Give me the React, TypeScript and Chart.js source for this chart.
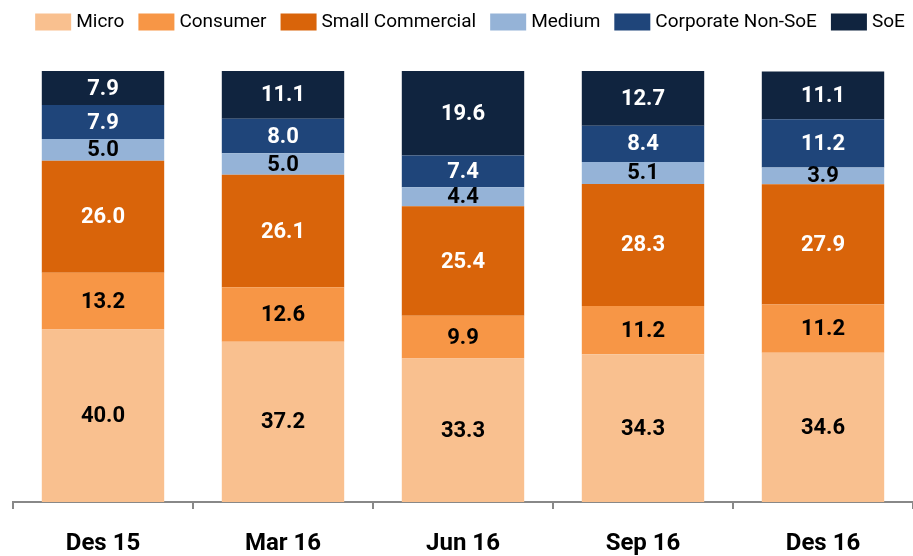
import React, { useEffect, useRef } from "react";
import { Chart, registerables } from "chart.js";

Chart.register(...registerables);

const categories = ["Des 15", "Mar 16", "Jun 16", "Sep 16", "Des 16"];
const micro = [40.0, 37.2, 33.3, 34.3, 34.6];
const consumer = [13.2, 12.6, 9.9, 11.2, 11.2];
const smallCommercial = [26.0, 26.1, 25.4, 28.3, 27.9];
const medium = [5.0, 5.0, 4.4, 5.1, 3.9];
const corporateNonSoE = [7.9, 8.0, 7.4, 8.4, 11.2];
const soe = [7.9, 11.1, 19.6, 12.7, 11.1];

const seriesNames = ["Micro", "Consumer", "Small Commercial", "Medium", "Corporate Non-SoE", "SoE"];
const seriesValues = [micro, consumer, smallCommercial, medium, corporateNonSoE, soe];
const seriesColors = ["#F9C08F", "#F79646", "#D9640A", "#95B3D7", "#1F457A", "#10243F"];
const labelColors = ["#000000", "#000000", "#FFFFFF", "#000000", "#FFFFFF", "#FFFFFF"];

const FONT = "Roboto, 'DejaVu Sans', sans-serif";

const barLabels = {
  id: "barLabels",
  afterDatasetsDraw(chart: any) {
    const ctx = chart.ctx;
    ctx.save();
    ctx.font = `bold 22px ${FONT}`;
    ctx.textAlign = "center";
    ctx.textBaseline = "middle";
    chart.data.datasets.forEach((ds: any, i: number) => {
      const meta = chart.getDatasetMeta(i);
      meta.data.forEach((el: any, j: number) => {
        const v = ds.data[j];
        const y = (el.y + el.base) / 2;
        ctx.fillStyle = labelColors[i];
        ctx.fillText(v.toFixed(1), el.x, y + 1);
      });
    });
    ctx.restore();
  },
};

const topLegend = {
  id: "topLegend",
  afterDraw(chart: any) {
    const ctx = chart.ctx;
    ctx.save();
    ctx.font = `19px ${FONT}`;
    ctx.textBaseline = "middle";
    ctx.textAlign = "left";
    const boxW = 36;
    const boxH = 17;
    const gapBoxText = 5;
    const gapItems = 14;
    const widths = chart.data.datasets.map((ds: any) => ctx.measureText(ds.label).width);
    let total = 0;
    widths.forEach((w: number) => (total += boxW + gapBoxText + w));
    total += gapItems * (widths.length - 1);
    let x = 470 - total / 2;
    const cy = 22;
    chart.data.datasets.forEach((ds: any, i: number) => {
      ctx.fillStyle = ds.backgroundColor;
      ctx.fillRect(x, cy - boxH / 2, boxW, boxH);
      x += boxW + gapBoxText;
      ctx.fillStyle = "#000";
      ctx.fillText(ds.label, x, cy);
      x += widths[i] + gapItems;
    });
    ctx.restore();
  },
};

export default function App() {
  const ref = useRef<HTMLCanvasElement | null>(null);
  useEffect(() => {
    if (!ref.current) return;
    const chart = new Chart(ref.current, {
      type: "bar",
      data: {
        labels: categories,
        datasets: seriesNames.map((name, i) => ({
          label: name,
          data: seriesValues[i],
          backgroundColor: seriesColors[i],
          borderWidth: 0,
          barPercentage: 0.68,
          categoryPercentage: 1,
        })),
      },
      options: {
        animation: false,
        responsive: false,
        maintainAspectRatio: false,
        layout: { padding: { left: 13, right: 0, top: 71, bottom: 0 } },
        plugins: {
          legend: { display: false },
          tooltip: { enabled: false },
        },
        scales: {
          x: {
            stacked: true,
            offset: true,
            afterFit(scale: any) {
              scale.height = 54;
            },
            grid: {
              display: true,
              drawOnChartArea: false,
              drawTicks: true,
              tickLength: 7,
              color: "#888888",
              lineWidth: 2,
              offset: true,
            },
            border: { display: true, color: "#888888", width: 2 },
            ticks: {
              color: "#000",
              padding: 21,
              font: { size: 24, weight: "bold", family: FONT },
            },
          },
          y: {
            stacked: true,
            display: false,
            min: 0,
            max: 100,
          },
        },
      },
      plugins: [barLabels, topLegend],
    });
    return () => chart.destroy();
  }, []);
  return (
    <div style={{ position: "fixed", left: 0, top: 0, width: 913, height: 556, background: "#fff" }}>
      <canvas ref={ref} width={913} height={556} style={{ width: 913, height: 556 }} />
    </div>
  );
}
